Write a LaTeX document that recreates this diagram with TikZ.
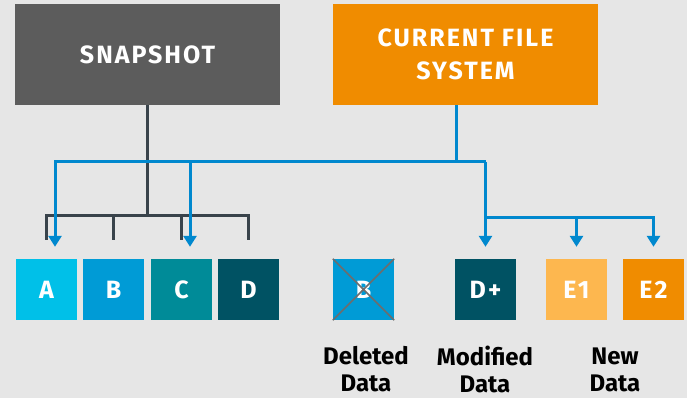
\documentclass[tikz,border=0pt]{standalone}
\usepackage{fontspec}
\setmainfont{Fira Sans}
\usetikzlibrary{arrows.meta,calc}

\definecolor{bgcol}{HTML}{E6E6E6}
\definecolor{snapgray}{HTML}{5C5C5C}
\definecolor{fsorange}{HTML}{F08C00}
\definecolor{colA}{HTML}{00C0E8}
\definecolor{colB}{HTML}{009BD6}
\definecolor{colC}{HTML}{008B98}
\definecolor{colD}{HTML}{005263}
\definecolor{colE}{HTML}{FDB74F}
\definecolor{linkblue}{HTML}{0088CE}
\definecolor{linkdark}{HTML}{39434B}
\definecolor{crossgray}{HTML}{6D6D6D}

\newcommand{\widecaps}{\addfontfeatures{LetterSpace=8}}

\tikzset{
  bigbox/.style={minimum width=265pt, minimum height=101pt, inner sep=0pt,
    text=white, align=center, font=\fontsize{25}{33}\selectfont\bfseries\widecaps},
  block/.style={minimum width=61pt, minimum height=61pt, inner sep=0pt,
    text=white, font=\fontsize{25}{28}\selectfont\bfseries\widecaps},
  darkln/.style={draw=linkdark, line width=3pt},
  blueln/.style={draw=linkblue, line width=3pt},
  arr/.style={-{Triangle[width=13pt,length=11pt]}},
  lbl/.style={align=center, text=black, inner sep=0pt,
    font=\fontsize{24}{27}\selectfont\bfseries},
}

\begin{document}
\begin{tikzpicture}[x=1pt,y=-1pt]
  \useasboundingbox (0,0) rectangle (687,398);
  \fill[bgcol] (0,0) rectangle (687,398);

  % top level boxes
  \node[bigbox, fill=snapgray] (snap) at (147.5,54.5) {SNAPSHOT};
  \node[bigbox, fill=fsorange] (cfs) at (465.5,54.5) {CURRENT FILE\\SYSTEM};

  % data blocks
  \node[block, fill=colA] (A) at (46.5,289.5) {A};
  \node[block, fill=colB] (B) at (113.5,289.5) {B};
  \node[block, fill=colC] (C) at (181.5,289.5) {C};
  \node[block, fill=colD] (D) at (248.5,289.5) {D};
  \node[block, fill=colB] (X) at (363.5,289.5) {B};
  \node[block, fill=colD] (Dp) at (485.5,289.5) {D+};
  \node[block, fill=colE] (E1) at (576.5,289.5) {E1};
  \node[block, fill=fsorange] (E2) at (653.5,289.5) {E2};

  % deleted block is crossed out
  \draw[crossgray, line width=1.5pt] (X.north west) -- (X.south east)
                                     (X.north east) -- (X.south west);

  % captions
  \node[lbl] (ldel) at (366,369.5) {Deleted\\Data};
  \node[lbl] (lmod) at (485,369.5) {Modified\\Data};
  \node[lbl] (lnew) at (615,369.5) {New\\Data};

  % helper levels
  \coordinate (sbar) at (147,215);
  \coordinate (bluelvl) at (456,162);
  \coordinate (elvl) at (0,217);
  \coordinate (hA) at ($(A.north)+(8.5,-12)$);
  \coordinate (hC) at ($(C.north)+(8.5,-12)$);
  \coordinate (hDp) at ($(Dp.north)+(0,-12)$);
  \coordinate (hE1) at ($(E1.north)+(0,-12)$);
  \coordinate (hE2) at ($(E2.north)+(0,-12)$);

  % snapshot references A B C D
  \draw[darkln] (snap.south -| sbar) -- (sbar);
  \draw[darkln] ($(A.north)+(0,-19)$) |- (sbar -| D.north) -- ($(D.north)+(0,-19)$);
  \draw[darkln] ($(B.north)+(0,-19)$) -- (sbar -| B.north);
  \draw[darkln] ($(C.north)+(0,-19)$) -- (sbar -| C.north);

  % current file system references A C D+ E1 E2
  \draw[blueln] (cfs.south -| bluelvl) -- (bluelvl);
  \draw[blueln, arr] (bluelvl -| Dp.north) -| (hA);
  \draw[blueln, arr] (bluelvl -| hC) -- (hC);
  \draw[blueln, arr] (bluelvl -| Dp.north) -- (hDp);
  \draw[blueln, arr] (elvl -| Dp.north) -| (hE2);
  \draw[blueln, arr] (elvl -| E1.north) -- (hE1);
\end{tikzpicture}
\end{document}
